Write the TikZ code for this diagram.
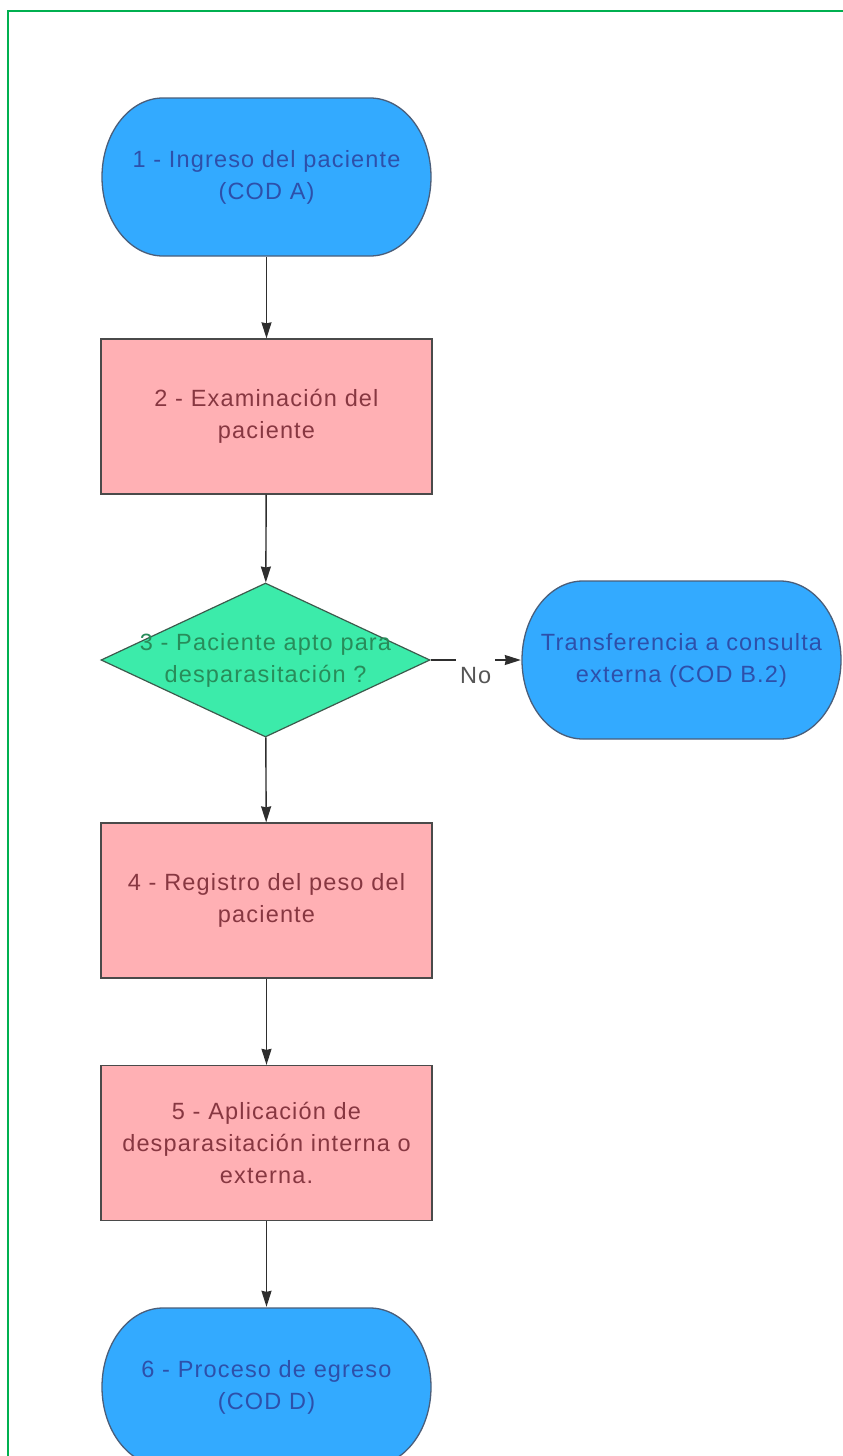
\documentclass[tikz,border=0pt]{standalone}
\usepackage{fontspec}
\setmainfont{Liberation Sans}
\newfontfamily\flowfont[LetterSpace=5]{Liberation Sans}
\usetikzlibrary{shapes.geometric,arrows.meta,calc}

\definecolor{termfill}{HTML}{33AAFF}
\definecolor{termline}{HTML}{4A5E7A}
\definecolor{termtext}{HTML}{2D50AA}
\definecolor{procfill}{HTML}{FFB0B4}
\definecolor{procline}{HTML}{4A4A4A}
\definecolor{proctext}{HTML}{873741}
\definecolor{decfill}{HTML}{3CEBAA}
\definecolor{decline}{HTML}{3C5A4C}
\definecolor{dectext}{HTML}{288C5A}
\definecolor{arrowcol}{HTML}{2E2E2E}
\definecolor{labelcol}{HTML}{555555}
\definecolor{framecol}{HTML}{00B050}

\begin{document}
\begin{tikzpicture}[x=1pt,y=1pt,
  every node/.style={font=\flowfont\fontsize{23.5}{32}\selectfont, align=center},
  % stadium-shaped start/end box with slightly elliptical ends
  term/.style={minimum width=331pt, minimum height=160pt, inner sep=0pt, text=termtext,
    path picture={
      \path[fill=termfill, draw=termline, line width=1.3pt]
        let \p1=(path picture bounding box.north east),
            \p2=(path picture bounding box.south west),
            \n1={(\y1-\y2)/2-1pt} in
        (\x2+62pt,\y1-1pt) -- (\x1-62pt,\y1-1pt)
        arc[start angle=90, end angle=-90, x radius=61pt, y radius=\n1]
        -- (\x2+62pt,\y2+1pt)
        arc[start angle=270, end angle=90, x radius=61pt, y radius=\n1] -- cycle;
    }},
  proc/.style={rectangle, draw=procline, fill=procfill, line width=1.3pt,
    minimum width=331pt, minimum height=155pt, inner sep=0pt, text=proctext},
  decision/.style={diamond, draw=decline, fill=decfill, line width=1.2pt,
    minimum width=329pt, minimum height=154pt, inner sep=0pt},
  dectextstyle/.style={text=dectext, inner sep=0pt},
  flow/.style={draw=arrowcol, line width=1.4pt,
    -{Stealth[length=16pt, width=10pt, inset=1pt]}},
  nolabel/.style={fill=white, text=labelcol, minimum height=36pt, inner xsep=4pt, inner ysep=0pt},
  frame/.style={draw=framecol, line width=2pt}
]
\useasboundingbox (0,0) rectangle (843,-1456);
\clip (0,0) rectangle (843,-1456);
\fill[white] (0,0) rectangle (843,-1456);
\draw[frame] (8,-11) rectangle (870,-1490);

% main column
\node[term] (t1) at (266.5,-177) {1 - Ingreso del paciente\\(COD A)};
\node[proc] (p2) at (266.5,-416.5) {2 - Examinación del\\paciente};
\node[decision] (d3) at (265.5,-660) {};
\node[dectextstyle] (d3t) at (d3.center) {3 - Paciente apto para\\desparasitación ?};
\node[proc] (p4) at (266.5,-900.5) {4 - Registro del peso del\\paciente};
\node[proc] (p5) at (266.5,-1143) {5 - Aplicación de\\desparasitación interna o\\externa.};
\node[term] (t6) at (266.5,-1387) {6 - Proceso de egreso\\(COD D)};

% side branch
\node[term, minimum width=321pt] (tb) at (681.5,-660) {Transferencia a consulta\\externa (COD B.2)};

% connectors
\draw[flow] (t1) -- (p2);
\draw[flow] (p2) -- (d3);
\draw[flow] (d3) -- (p4);
\draw[flow] (p4) -- (p5);
\draw[flow] (p5) -- (t6);
\draw[flow] (d3) -- node[nolabel, pos=0.5, yshift=-16pt] (nolab) {No} (tb);
\end{tikzpicture}
\end{document}
